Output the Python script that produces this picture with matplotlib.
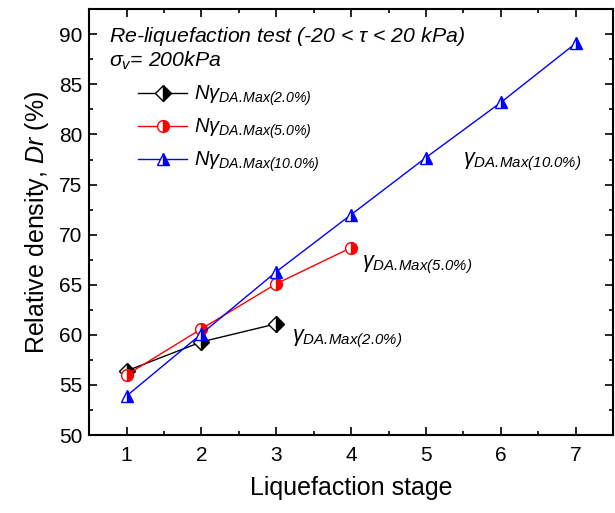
import matplotlib
matplotlib.use("Agg")
import matplotlib.pyplot as plt
from matplotlib.ticker import MultipleLocator

plt.rcParams['font.family'] = ['Liberation Sans', 'DejaVu Sans']
plt.rcParams['mathtext.fontset'] = 'custom'
plt.rcParams['mathtext.rm'] = 'Liberation Sans:italic'
plt.rcParams['mathtext.it'] = 'Liberation Sans:italic'
plt.rcParams['mathtext.bf'] = 'Liberation Sans:bold'

stage_2 = [1, 2, 3]
dr_2 = [56.4, 59.3, 61.1]
stage_5 = [1, 2, 3, 4]
dr_5 = [56.0, 60.6, 65.1, 68.7]
stage_10 = [1, 2, 3, 4, 5, 6, 7]
dr_10 = [53.9, 60.1, 66.3, 72.0, 77.7, 83.2, 89.1]

labels = [r'$N\gamma_{\mathrm{DA.\!Max(2.0\%)}}$',
          r'$N\gamma_{\mathrm{DA.\!Max(5.0\%)}}$',
          r'$N\gamma_{\mathrm{DA.\!Max(10.0\%)}}$']
curve_labels = [r'$\gamma_{\mathrm{DA.\!Max(2.0\%)}}$',
                r'$\gamma_{\mathrm{DA.\!Max(5.0\%)}}$',
                r'$\gamma_{\mathrm{DA.\!Max(10.0\%)}}$']

fig = plt.figure(figsize=(6.15, 5.13), dpi=100)
ax = fig.add_axes([0.145, 0.152, 0.852, 0.830])

ax.plot(stage_2, dr_2, color='black', lw=1.0, marker='D', ms=8.0,
        fillstyle='right', markerfacecolor='black', markerfacecoloralt='white',
        markeredgecolor='black', markeredgewidth=1.0, label=labels[0])
ax.plot(stage_5, dr_5, color='red', lw=1.0, marker='o', ms=8.5,
        fillstyle='right', markerfacecolor='red', markerfacecoloralt='white',
        markeredgecolor='red', markeredgewidth=1.0, label=labels[1])
ax.plot(stage_10, dr_10, color='blue', lw=1.0, marker='^', ms=9.0,
        fillstyle='right', markerfacecolor='blue', markerfacecoloralt='white',
        markeredgecolor='blue', markeredgewidth=1.0, label=labels[2])

ax.set_xlim(0.5, 7.5)
ax.set_ylim(50, 92.5)
ax.xaxis.set_major_locator(MultipleLocator(1))
ax.xaxis.set_minor_locator(MultipleLocator(0.5))
ax.yaxis.set_major_locator(MultipleLocator(5))
ax.yaxis.set_minor_locator(MultipleLocator(2.5))
ax.tick_params(which='both', direction='in', top=True, right=True, width=1.2)
ax.tick_params(which='major', length=6, labelsize=15)
ax.tick_params(axis='x', which='major', pad=8)
ax.tick_params(axis='y', which='major', pad=5)
ax.tick_params(which='minor', length=3)
for s in ax.spines.values():
    s.set_linewidth(1.5)

ax.set_xlabel('Liquefaction stage', fontsize=18, labelpad=8)
ax.set_ylabel(r'Relative density, $\mathit{Dr}$ (%)', fontsize=18, labelpad=6)

ax.text(0.037, 0.937, r'Re-liquefaction test (-20 < $\tau$ < 20 kPa)',
        transform=ax.transAxes, fontsize=15.3, style='italic', va='center', ha='left')
ax.text(0.037, 0.878, r'$\sigma_v$= 200kPa',
        transform=ax.transAxes, fontsize=15.3, style='italic', va='center', ha='left')

ax.text(5.495, 77.3, curve_labels[2], fontsize=15.5, va='center', ha='left')
ax.text(4.14, 66.95, curve_labels[1], fontsize=15.5, va='center', ha='left')
ax.text(3.21, 59.6, curve_labels[0], fontsize=15.5, va='center', ha='left')

leg = ax.legend(loc='upper left', bbox_to_anchor=(0.078, 0.844), frameon=False,
                fontsize=14.5, handlelength=2.45, handletextpad=0.35, labelspacing=0.42,
                borderaxespad=0)

fig.savefig('out.png', dpi=100)
